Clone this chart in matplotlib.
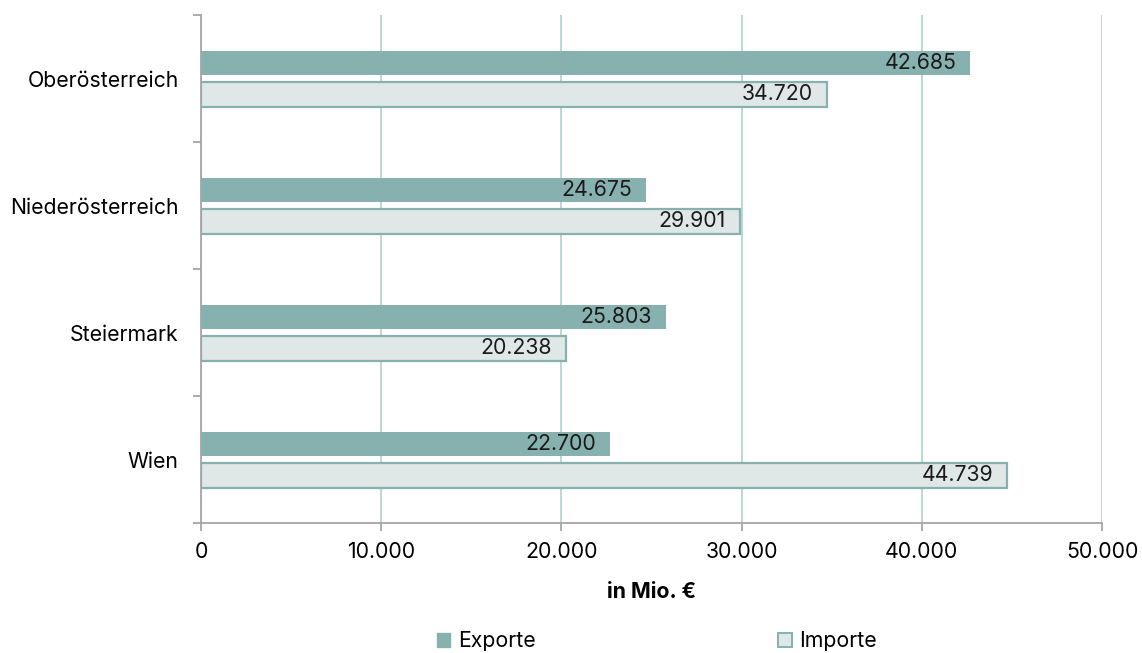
import numpy as np
import matplotlib
matplotlib.use("Agg")
import matplotlib.pyplot as plt
from matplotlib.ticker import FuncFormatter, FixedLocator
from matplotlib.patches import Patch

regions = ['Oberösterreich', 'Niederösterreich', 'Steiermark', 'Wien']
exporte = [42685, 24675, 25803, 22700]
importe = [34720, 29901, 20238, 44739]

TEAL, PALE, GRID, AXG = '#86b1ae', '#dfe8e7', '#a9cdc9', '#a6a6a6'
FS = 15.3
plt.rcParams.update({'font.family': ['Inter', 'DejaVu Sans'], 'font.size': FS})


def dots(v, _=None):
    return f'{int(round(v)):,}'.replace(',', '.')


fig = plt.figure(figsize=(11.42, 6.53), dpi=100)
ax = fig.add_axes([0.176, 0.199, 0.789, 0.778])

n = len(regions)
yc = np.arange(n)[::-1] + 0.5
h = 0.195
ax.barh(yc + 0.122, exporte, height=h, color=TEAL, zorder=3)
ax.barh(yc - 0.125, importe, height=h, color=PALE, edgecolor=TEAL, lw=1.6, zorder=3)

for y, v in zip(yc + 0.122, exporte):
    ax.annotate(dots(v), (v, y), xytext=(-10, 0), textcoords='offset points',
                ha='right', va='center', color='#1a1a1a', zorder=4)
for y, v in zip(yc - 0.125, importe):
    ax.annotate(dots(v), (v, y), xytext=(-10, 0), textcoords='offset points',
                ha='right', va='center', color='#1a1a1a', zorder=4)

ax.set_xlim(0, 50000)
ax.set_ylim(0, n)
ax.xaxis.set_major_locator(FixedLocator(np.arange(0, 50001, 10000)))
ax.xaxis.set_major_formatter(FuncFormatter(dots))
ax.grid(axis='x', color=GRID, lw=1.1, zorder=0)
ax.set_axisbelow(True)

ax.set_yticks(np.arange(0, n + 1))
ax.set_yticklabels([])
ax.set_yticks(yc, minor=True)
ax.set_yticklabels(regions, minor=True)
ax.tick_params(axis='y', which='major', length=6, color=AXG, width=1.3)
ax.tick_params(axis='y', which='minor', length=0, pad=16, labelsize=FS)
ax.tick_params(axis='x', length=6, color=AXG, width=1.3, pad=8, labelsize=FS)

for s in ['top', 'right']:
    ax.spines[s].set_visible(False)
for s in ['left', 'bottom']:
    ax.spines[s].set_color(AXG)
    ax.spines[s].set_linewidth(1.3)

ax.set_xlabel('in Mio. €', fontweight='bold', labelpad=14, fontsize=FS)

handles = [Patch(facecolor=TEAL, edgecolor=TEAL, label='Exporte'),
           Patch(facecolor=PALE, edgecolor=TEAL, lw=1.4, label='Importe')]
fig.legend(handles=handles, loc='center', bbox_to_anchor=(0.575, 0.018), ncol=2,
           frameon=False, handlelength=0.65, handleheight=0.65, handletextpad=0.35,
           columnspacing=11.4, fontsize=FS)

fig.savefig('out.png', dpi=100, facecolor='white')
